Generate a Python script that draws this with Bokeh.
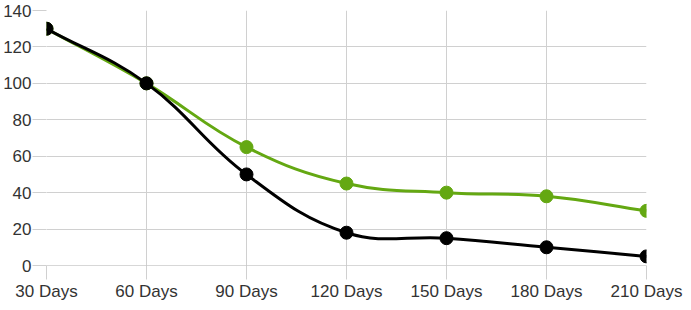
import math
from bokeh.plotting import figure
from bokeh.models import ColumnDataSource, Range1d, FixedTicker, Span
from bokeh.embed import file_html
from bokeh.resources import INLINE

categories = ["30 Days", "60 Days", "90 Days", "120 Days", "150 Days", "180 Days", "210 Days"]
green_values = [130, 100, 65, 45, 40, 38, 30]
black_values = [130, 100, 50, 18, 15, 10, 5]
y_ticks = [0, 20, 40, 60, 80, 100, 120, 140]

GREEN = "#64a812"
BLACK = "#000000"
GRID = "#d0d0d0"
TEXT = "#333333"
FONT = "Liberation Sans"

FRAME_W, FRAME_H = 600, 255
Y_MAX = 140
xs = list(range(len(categories)))


def spline_source(x, y, tension=0.4):
    sx = FRAME_W / (len(x) - 1)
    sy = FRAME_H / Y_MAX
    n = len(x)
    cpp, cpn = [], []
    for i in range(n):
        a = max(i - 1, 0)
        b = min(i + 1, n - 1)
        d01 = math.hypot((x[i] - x[a]) * sx, (y[i] - y[a]) * sy)
        d12 = math.hypot((x[b] - x[i]) * sx, (y[b] - y[i]) * sy)
        tot = d01 + d12
        s01 = d01 / tot if tot else 0
        s12 = d12 / tot if tot else 0
        fa, fb = tension * s01, tension * s12
        dx, dy = x[b] - x[a], y[b] - y[a]
        cpp.append((x[i] - fa * dx, min(max(y[i] - fa * dy, 0), Y_MAX)))
        cpn.append((x[i] + fb * dx, min(max(y[i] + fb * dy, 0), Y_MAX)))
    d = dict(x0=[], y0=[], x1=[], y1=[], cx0=[], cy0=[], cx1=[], cy1=[])
    for i in range(n - 1):
        d["x0"].append(x[i]); d["y0"].append(y[i])
        d["x1"].append(x[i + 1]); d["y1"].append(y[i + 1])
        d["cx0"].append(cpn[i][0]); d["cy0"].append(cpn[i][1])
        d["cx1"].append(cpp[i + 1][0]); d["cy1"].append(cpp[i + 1][1])
    return ColumnDataSource(d)


p = figure(width=691, height=310, output_backend="svg", toolbar_location=None,
           x_range=Range1d(0, len(categories) - 1), y_range=Range1d(0, Y_MAX),
           min_border_left=46, min_border_right=45, min_border_top=10, min_border_bottom=45)
p.outline_line_color = None
p.background_fill_color = "white"
p.border_fill_color = "white"

p.xgrid.grid_line_color = GRID
p.ygrid.grid_line_color = GRID
p.xgrid.ticker = FixedTicker(ticks=xs)
p.ygrid.ticker = FixedTicker(ticks=y_ticks)

p.xaxis.ticker = FixedTicker(ticks=xs)
p.xaxis.major_label_overrides = {i: c for i, c in enumerate(categories)}
p.yaxis.ticker = FixedTicker(ticks=y_ticks)

for ax in (p.xaxis[0], p.yaxis[0]):
    ax.axis_line_color = None
    ax.major_tick_line_color = GRID
    ax.major_tick_in = 0
    ax.major_tick_out = 14
    ax.minor_tick_line_color = None
    ax.major_label_text_font = FONT
    ax.major_label_text_font_size = "17px"
    ax.major_label_text_color = TEXT
p.xaxis.major_label_standoff = 2
p.yaxis.major_label_standoff = 1

p.add_layout(Span(location=0, dimension="width", line_color="#b0b0b0", line_width=1))

for vals, col in ((green_values, GREEN), (black_values, BLACK)):
    src = spline_source(xs, vals)
    p.bezier(x0="x0", y0="y0", x1="x1", y1="y1", cx0="cx0", cy0="cy0", cx1="cx1", cy1="cy1",
             source=src, line_color=col, line_width=3)
    p.scatter(xs, vals, size=13, fill_color=col, line_color=col)

open("out.html", "w").write(file_html(p, INLINE))
